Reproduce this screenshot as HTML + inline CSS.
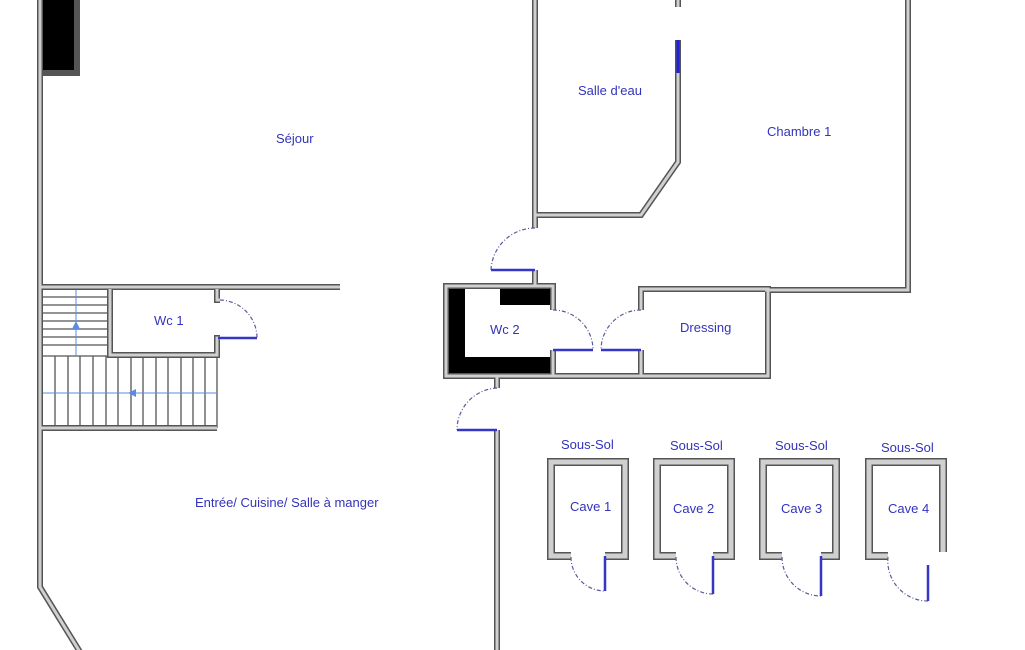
<!DOCTYPE html>
<html><head><meta charset="utf-8"><style>
html,body{margin:0;padding:0;background:#fff;width:1025px;height:650px;overflow:hidden}
svg{display:block}
text{font-family:"Liberation Sans",sans-serif;font-size:13px;fill:#3333bb}
.wo{fill:none;stroke:#555;stroke-width:6;stroke-linejoin:miter}
.wi{fill:none;stroke:#d0d0d0;stroke-width:3;stroke-linejoin:miter}
.co{fill:none;stroke:#555;stroke-width:8}
.ci{fill:none;stroke:#d0d0d0;stroke-width:5}
.arc{fill:none;stroke:#5a5a9a;stroke-width:1.2;stroke-dasharray:4 2 1 2}
.leaf{stroke:#3535c8;stroke-width:2.5}
.tr{stroke:#555;stroke-width:1.3}
.bl{fill:#000}
</style></head><body>
<svg width="1025" height="650" viewBox="0 0 1025 650">
<!-- black fills -->
<rect class="bl" x="43" y="0" width="34" height="73"/>
<rect class="bl" x="448" y="288" width="17" height="86"/>
<rect class="bl" x="448" y="357" width="104" height="17"/>
<rect class="bl" x="500" y="288" width="52" height="17"/>

<!-- stair treads -->
<g class="tr">
<line x1="42" y1="297" x2="110" y2="297"/><line x1="42" y1="305" x2="110" y2="305"/>
<line x1="42" y1="313" x2="110" y2="313"/><line x1="42" y1="321" x2="110" y2="321"/>
<line x1="42" y1="329" x2="110" y2="329"/><line x1="42" y1="337" x2="110" y2="337"/>
<line x1="42" y1="345" x2="110" y2="345"/><line x1="42" y1="356" x2="217" y2="356"/>
<line x1="55" y1="356" x2="55" y2="428"/><line x1="68" y1="356" x2="68" y2="428"/>
<line x1="80" y1="356" x2="80" y2="428"/><line x1="93" y1="356" x2="93" y2="428"/>
<line x1="106" y1="356" x2="106" y2="428"/><line x1="118" y1="356" x2="118" y2="428"/>
<line x1="131" y1="356" x2="131" y2="428"/><line x1="143" y1="356" x2="143" y2="428"/>
<line x1="156" y1="356" x2="156" y2="428"/><line x1="168" y1="356" x2="168" y2="428"/>
<line x1="181" y1="356" x2="181" y2="428"/><line x1="193" y1="356" x2="193" y2="428"/>
<line x1="205" y1="356" x2="205" y2="428"/><line x1="217" y1="356" x2="217" y2="428"/>
</g>
<line x1="76" y1="290" x2="76" y2="356" stroke="#5b8be0" stroke-width="1"/>
<polygon points="76,321 72,329 80,329" fill="#5b8be0"/>
<line x1="42" y1="393" x2="217" y2="393" stroke="#5b8be0" stroke-width="1"/>
<polygon points="128,393 136,389 136,397" fill="#5b8be0"/>

<g id="walls">
<!-- left outer -->
<polyline class="wo" points="40,0 40,587 80,652"/>
<polyline class="wo" points="77,0 77,73 43,73"/>
<polyline class="wo" points="40,287 340,287"/>
<polyline class="wo" points="40,428 217,428"/>
<polyline class="wo" points="110,289 110,355 217,355 217,338 220,338"/>
<polyline class="wo" points="217,289 217,300 220,300"/>
<!-- salle d'eau -->
<polyline class="wo" points="535,0 535,215 641,215 678,162 678,40"/>
<polyline class="wo" points="678,0 678,7"/>
<polyline class="wo" points="535,215 535,228"/>
<polyline class="wo" points="535,270 535,287"/>
<!-- chambre -->
<polyline class="wo" points="908,0 908,290 765,290"/>
<!-- wc2 / dressing block -->
<polyline class="wo" points="553,310 553,286 446,286 446,376 768,376 768,289 641,289 641,310"/>
<polyline class="wo" points="553,350 553,376"/>
<polyline class="wo" points="641,350 641,376"/>
<polyline class="wo" points="497,376 497,388"/>
<polyline class="wo" points="497,430 497,652"/>
</g>
<g>
<polyline class="wi" points="40,0 40,587 80,652"/>
<polyline class="wi" points="40,287 340,287"/>
<polyline class="wi" points="40,428 217,428"/>
<polyline class="wi" points="110,289 110,355 217,355 217,338 220,338"/>
<polyline class="wi" points="217,289 217,300 220,300"/>
<polyline class="wi" points="535,0 535,215 641,215 678,162 678,40"/>
<polyline class="wi" points="678,0 678,7"/>
<polyline class="wi" points="535,215 535,228"/>
<polyline class="wi" points="535,270 535,287"/>
<polyline class="wi" points="908,0 908,290 765,290"/>
<polyline class="wi" points="553,310 553,286 446,286 446,376 768,376 768,289 641,289 641,310"/>
<polyline class="wi" points="553,350 553,376"/>
<polyline class="wi" points="641,350 641,376"/>
<polyline class="wi" points="497,376 497,388"/>
<polyline class="wi" points="497,430 497,652"/>
</g>
<line x1="678" y1="40" x2="678" y2="73" stroke="#2020e0" stroke-width="3"/>

<!-- doors -->
<path class="arc" d="M220,300 A38,38 0 0 1 257,338"/><line class="leaf" x1="218" y1="338" x2="257" y2="338"/>
<path class="arc" d="M535,228 A44,44 0 0 0 491,270"/><line class="leaf" x1="491" y1="270" x2="535" y2="270"/>
<path class="arc" d="M553,310 A40,40 0 0 1 593,350"/><line class="leaf" x1="553" y1="350" x2="593" y2="350"/>
<path class="arc" d="M641,310 A40,40 0 0 0 601,350"/><line class="leaf" x1="601" y1="350" x2="641" y2="350"/>
<path class="arc" d="M497,388 A42,42 0 0 0 457,430"/><line class="leaf" x1="457" y1="430" x2="497" y2="430"/>

<!-- caves -->
<g>
<polyline class="co" points="571,556 551,556 551,462 625,462 625,556 605,556"/>
<polyline class="ci" points="571,556 551,556 551,462 625,462 625,556 605,556"/>
<path class="arc" d="M571,557 A34,34 0 0 0 605,591"/><line class="leaf" x1="605" y1="556" x2="605" y2="591"/>
<polyline class="co" points="676,556 657,556 657,462 731,462 731,556 713,556"/>
<polyline class="ci" points="676,556 657,556 657,462 731,462 731,556 713,556"/>
<path class="arc" d="M676,557 A37,37 0 0 0 713,594"/><line class="leaf" x1="713" y1="556" x2="713" y2="594"/>
<polyline class="co" points="782,556 763,556 763,462 836,462 836,556 821,556"/>
<polyline class="ci" points="782,556 763,556 763,462 836,462 836,556 821,556"/>
<path class="arc" d="M782,557 A39,39 0 0 0 821,596"/><line class="leaf" x1="821" y1="556" x2="821" y2="596"/>
<polyline class="co" points="888,556 869,556 869,462 943,462 943,552"/>
<polyline class="ci" points="888,556 869,556 869,462 943,462 943,552"/>
<path class="arc" d="M888,557 A40,40 0 0 0 928,601"/><line class="leaf" x1="928" y1="565" x2="928" y2="601"/>
</g>

<!-- labels -->
<text x="276" y="143">Séjour</text>
<text x="578" y="95">Salle d'eau</text>
<text x="767" y="136">Chambre 1</text>
<text x="154" y="325">Wc 1</text>
<text x="490" y="334">Wc 2</text>
<text x="680" y="332">Dressing</text>
<text x="195" y="507">Entrée/ Cuisine/ Salle à manger</text>
<text x="561" y="449">Sous-Sol</text>
<text x="670" y="450">Sous-Sol</text>
<text x="775" y="450">Sous-Sol</text>
<text x="881" y="452">Sous-Sol</text>
<text x="570" y="511">Cave 1</text>
<text x="673" y="513">Cave 2</text>
<text x="781" y="513">Cave 3</text>
<text x="888" y="513">Cave 4</text>
</svg>
</body></html>
